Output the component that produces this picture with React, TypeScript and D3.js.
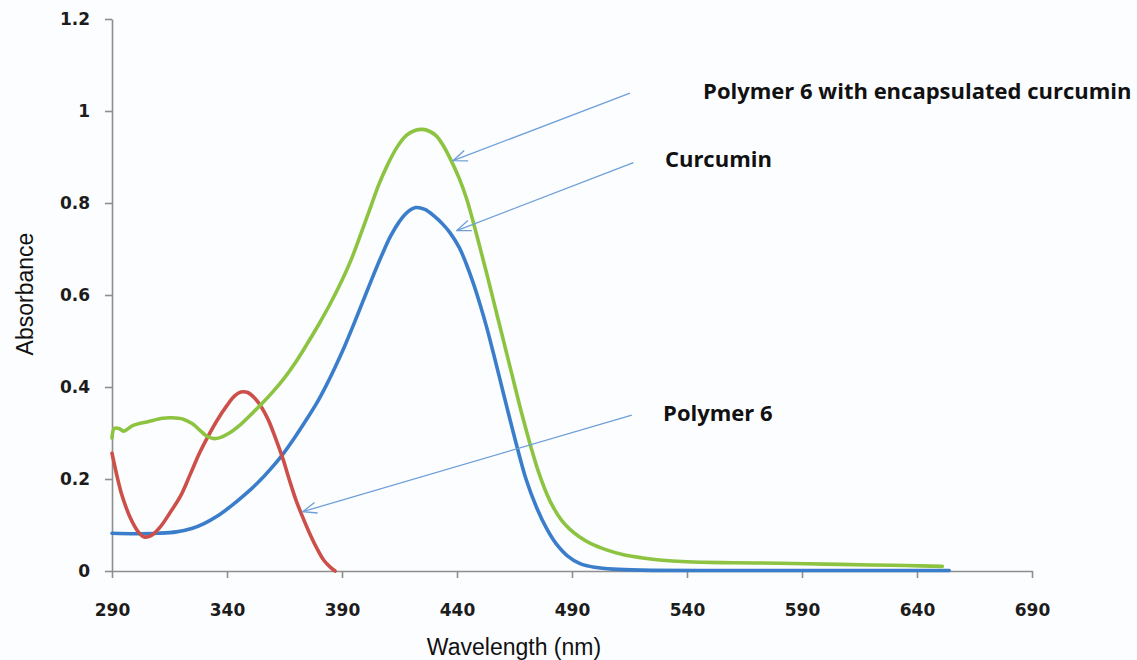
import React, { useEffect, useRef } from 'react';
import * as d3 from 'd3';

// axis ticks
const xTicks = [290, 340, 390, 440, 490, 540, 590, 640, 690];
const yTicks = [0, 0.2, 0.4, 0.6, 0.8, 1, 1.2];

// Polymer 6 with encapsulated curcumin (green)
const encapNm = [290, 291, 293, 295, 299, 306, 312, 316, 321, 325, 328, 331, 334, 337, 341, 346, 350, 355, 360, 365, 370, 375, 380, 385, 390, 394, 398, 402, 406, 410, 414, 418, 422, 425, 428, 431, 434, 437, 441, 444, 447, 450, 453, 456, 459, 462, 465, 468, 472, 475, 479, 482, 485.5, 489, 493, 498, 505, 512, 520, 528, 540, 560, 580, 600, 620, 635, 651];
const encapAbs = [0.289, 0.31, 0.31, 0.304, 0.316, 0.325, 0.332, 0.333, 0.33, 0.32, 0.307, 0.294, 0.288, 0.29, 0.3, 0.319, 0.338, 0.363, 0.39, 0.42, 0.455, 0.495, 0.537, 0.582, 0.632, 0.677, 0.73, 0.785, 0.84, 0.885, 0.922, 0.947, 0.958, 0.96, 0.956, 0.946, 0.925, 0.897, 0.853, 0.812, 0.76, 0.703, 0.645, 0.585, 0.525, 0.465, 0.405, 0.345, 0.272, 0.222, 0.168, 0.137, 0.11, 0.091, 0.075, 0.06, 0.046, 0.036, 0.029, 0.024, 0.02, 0.018, 0.017, 0.015, 0.013, 0.012, 0.01];

// Curcumin (blue)
const curcuminNm = [290, 300, 310, 318, 325, 330, 336, 342, 348, 354, 359, 364, 369, 374, 379, 383, 387, 391, 395, 399, 403, 407, 411, 415, 418, 422, 426, 430, 434, 437, 441, 444, 447, 450, 453, 456, 459, 462, 466, 470, 474.6, 479, 483, 488, 493.5, 500, 508, 520, 560, 600, 654];
const curcuminAbs = [0.082, 0.081, 0.082, 0.085, 0.093, 0.103, 0.12, 0.142, 0.167, 0.195, 0.222, 0.252, 0.287, 0.325, 0.365, 0.402, 0.443, 0.487, 0.535, 0.585, 0.635, 0.683, 0.727, 0.76, 0.778, 0.79, 0.786, 0.772, 0.753, 0.735, 0.703, 0.668, 0.627, 0.58, 0.528, 0.47, 0.41, 0.35, 0.272, 0.2, 0.138, 0.092, 0.06, 0.033, 0.016, 0.008, 0.004, 0.002, 0.001, 0.001, 0.001];

// Polymer 6 (red)
const polymerNm = [290, 292, 294, 296, 298, 301, 304, 307, 311, 315, 320, 324, 328, 332, 336, 340, 343, 346, 349, 352, 355, 358, 361, 364.5, 367, 370, 373, 376, 379, 382, 385, 387];
const polymerAbs = [0.256, 0.21, 0.17, 0.14, 0.115, 0.088, 0.074, 0.077, 0.096, 0.125, 0.165, 0.21, 0.256, 0.295, 0.33, 0.36, 0.379, 0.389, 0.388, 0.376, 0.356, 0.328, 0.29, 0.241, 0.2, 0.154, 0.116, 0.081, 0.05, 0.024, 0.008, 0];

// annotations (labels and arrows, in data units)
const labelText = ['Polymer 6 with encapsulated curcumin', 'Curcumin', 'Polymer 6'];
const labelNm = [547, 530.4, 529.6];
const labelAbs = [1.026, 0.878, 0.326];
const arrowFromNm = [515.2, 516.7, 516];
const arrowFromAbs = [1.039, 0.888, 0.339];
const arrowToNm = [438.3, 439.9, 372.9];
const arrowToAbs = [0.892, 0.74, 0.129];

const drawChart = (node: SVGSVGElement) => {
  const width = 1137;
  const height = 660;
  const plot = { left: 112, right: 1032, top: 19, bottom: 571 };

  const svg = d3.select(node).attr('width', width).attr('height', height);
  svg.selectAll('*').remove();

  svg.append('rect').attr('width', width).attr('height', height).attr('fill', '#fcfdff');

  const x = d3.scaleLinear().domain([290, 690]).range([plot.left, plot.right]);
  const y = d3.scaleLinear().domain([0, 1.2]).range([plot.bottom, plot.top]);

  const axisColor = '#8e8e8e';
  const tickFont = '"DejaVu Sans", Verdana, sans-serif';

  const xAxis = d3.axisBottom(x).tickValues(xTicks).tickSize(7).tickSizeOuter(0).tickPadding(26)
    .tickFormat(d => String(d));
  const gx = svg.append('g').attr('transform', `translate(0,${plot.bottom})`).call(xAxis);

  const yAxis = d3.axisLeft(y).tickValues(yTicks).tickSize(7).tickSizeOuter(0).tickPadding(15)
    .tickFormat(d => String(d));
  const gy = svg.append('g').attr('transform', `translate(${plot.left},0)`).call(yAxis);

  [gx, gy].forEach(g => {
    g.selectAll('path, line').attr('stroke', axisColor).attr('stroke-width', 1.6);
    g.selectAll('text')
      .attr('font-family', tickFont)
      .attr('font-weight', 'bold')
      .attr('font-size', 17)
      .attr('fill', '#1c1c1c');
  });

  const line = d3.line<[number, number]>()
    .x(d => x(d[0]))
    .y(d => y(d[1]))
    .curve(d3.curveCatmullRom.alpha(0.5));

  const series = [
    { nm: curcuminNm, abs: curcuminAbs, color: '#3a7dca' },
    { nm: polymerNm, abs: polymerAbs, color: '#cc4f49' },
    { nm: encapNm, abs: encapAbs, color: '#8cc341' }
  ];

  series.forEach(s => {
    svg.append('path')
      .datum(s.nm.map((v, i) => [v, s.abs[i]] as [number, number]))
      .attr('d', line)
      .attr('fill', 'none')
      .attr('stroke', s.color)
      .attr('stroke-width', 3.6)
      .attr('stroke-linejoin', 'round')
      .attr('stroke-linecap', 'round');
  });

  // arrows
  const arrowColor = '#6d9fd8';
  svg.append('defs').append('marker')
    .attr('id', 'open-arrow')
    .attr('viewBox', '0 -7 16 14')
    .attr('refX', 15)
    .attr('refY', 0)
    .attr('markerWidth', 16)
    .attr('markerHeight', 14)
    .attr('markerUnits', 'userSpaceOnUse')
    .attr('orient', 'auto')
    .append('path')
    .attr('d', 'M1,-5.5L15,0L1,5.5')
    .attr('fill', 'none')
    .attr('stroke', arrowColor)
    .attr('stroke-width', 1.3);

  svg.selectAll('.arrow')
    .data(arrowFromNm)
    .enter()
    .append('line')
    .attr('class', 'arrow')
    .attr('x1', (d, i) => x(d))
    .attr('y1', (d, i) => y(arrowFromAbs[i]))
    .attr('x2', (d, i) => x(arrowToNm[i]))
    .attr('y2', (d, i) => y(arrowToAbs[i]))
    .attr('stroke', arrowColor)
    .attr('stroke-width', 1.3)
    .attr('marker-end', 'url(#open-arrow)');

  svg.selectAll('.label')
    .data(labelText)
    .enter()
    .append('text')
    .attr('class', 'label')
    .attr('x', (d, i) => x(labelNm[i]))
    .attr('y', (d, i) => y(labelAbs[i]))
    .attr('font-family', '"Open Sans", "Noto Sans", sans-serif')
    .attr('font-weight', 'bold')
    .attr('font-size', 22)
    .attr('fill', '#111')
    .text(d => d);

  // axis titles
  svg.append('text')
    .attr('x', (plot.left + plot.right) / 2 - 58)
    .attr('y', 655)
    .attr('text-anchor', 'middle')
    .attr('font-family', '"Liberation Sans", Arial, sans-serif')
    .attr('font-size', 23)
    .attr('fill', '#111')
    .text('Wavelength (nm)');

  svg.append('text')
    .attr('transform', `translate(33,${(plot.top + plot.bottom) / 2 - 1}) rotate(-90)`)
    .attr('text-anchor', 'middle')
    .attr('font-family', '"Liberation Sans", Arial, sans-serif')
    .attr('font-size', 23)
    .attr('fill', '#111')
    .text('Absorbance');
};

export default function App() {
  const ref = useRef<SVGSVGElement>(null);

  useEffect(() => {
    if (ref.current) drawChart(ref.current);
  }, []);

  return (
    <div>
      <style>{'body { margin: 0; }'}</style>
      <svg ref={ref} style={{ display: 'block' }} />
    </div>
  );
}
